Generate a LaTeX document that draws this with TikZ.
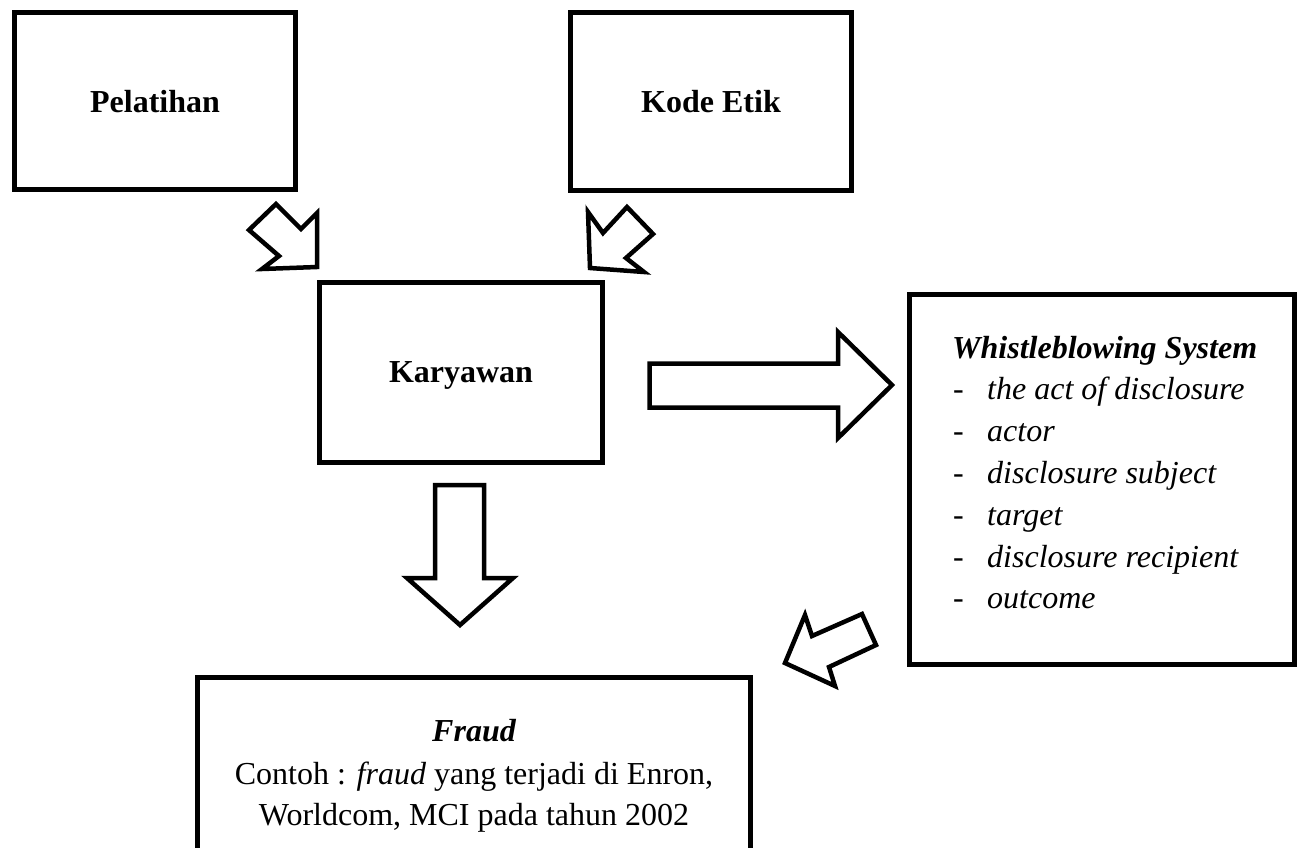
\documentclass[tikz,border=0pt]{standalone}
\usepackage{fontspec}
\setmainfont{Liberation Serif}
\begin{document}
\begin{tikzpicture}[x=1pt,y=-1pt,
  box/.style={draw=black,line width=5.5pt,rectangle,inner sep=0pt,fill=white},
  blockarrow/.style={draw=black,line width=4.5pt,fill=white,line join=miter},
  lbl/.style={inner sep=0pt,font=\fontsize{32}{40}\selectfont},
  lblb/.style={inner sep=0pt,font=\fontsize{32}{40}\selectfont\bfseries}]
\useasboundingbox (0,0) rectangle (1304,847);
\clip (0,0) rectangle (1304,847);
% boxes
\node[box,minimum width=281pt,minimum height=177pt] (pel) at (155,101) {};
\node[box,minimum width=281pt,minimum height=178pt] (kode) at (711,101.5) {};
\node[box,minimum width=283pt,minimum height=180pt] (kar) at (461,372.5) {};
\node[box,minimum width=385pt,minimum height=370pt] (wb) at (1102,479.5) {};
\node[box,minimum width=553pt,minimum height=240pt,anchor=north] (fr) at (474,674.5) {};
% texts
\node[lblb,anchor=base] (pelt) at (155,112) {Pelatihan};
\node[lblb,anchor=base] (kodet) at (711,112) {Kode Etik};
\node[lblb,anchor=base] (kart) at (461,382) {Karyawan};
\node[lblb,anchor=base west] (wbt) at (952,358) {\itshape Whistleblowing System};
\foreach \t [count=\i] in {the act of disclosure,actor,disclosure subject,target,disclosure recipient,outcome}{
  \node[lbl,anchor=base west] (wbd\i) at (953,{358+41.8*\i}) {-};
  \node[lbl,anchor=base west] (wbi\i) at (987,{358+41.8*\i}) {\itshape \t};
}
\node[lblb,anchor=base] (frt) at (474,741) {\itshape Fraud};
\node[lbl,anchor=base] (fr1) at (474,784) {Contoh : \textit{fraud} yang terjadi di Enron,};
\node[lbl,anchor=base] (fr2) at (474,825) {Worldcom, MCI pada tahun 2002};
% block arrows
\draw[blockarrow] (249,230) -- (276,204) -- (301,229) -- (317,213) -- (317,267) -- (262,269) -- (279,256) -- cycle;
\draw[blockarrow] (588,212) -- (603,233) -- (627,207) -- (653,234) -- (626,258) -- (644,272) -- (590,268) -- cycle;
\draw[blockarrow] (649.5,363.5) -- (838,363.5) -- (838,332) -- (892,385) -- (838,438) -- (838,407.5) -- (649.5,407.5) -- cycle;
\draw[blockarrow] (435,485) -- (484,485) -- (484,578) -- (513,578) -- (460,625) -- (407,578) -- (435,578) -- cycle;
\draw[blockarrow] (805,615) -- (812,636) -- (862,614) -- (876,645) -- (829,667) -- (835,686) -- (785,663) -- cycle;
\end{tikzpicture}
\end{document}
